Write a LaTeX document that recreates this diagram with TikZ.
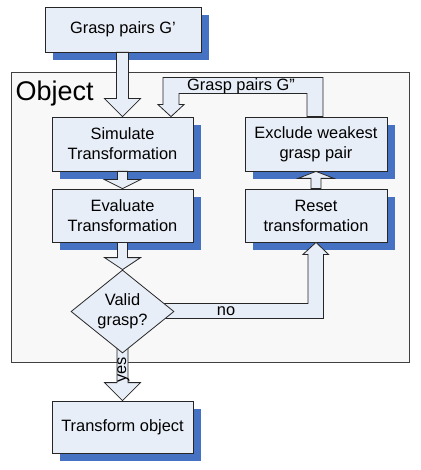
\documentclass[tikz,border=0pt]{standalone}
\usepackage{fontspec}
\setmainfont{Liberation Sans}
\usepackage{tikz}
\usetikzlibrary{calc}
\usetikzlibrary{shapes.geometric}
\usetikzlibrary{shadows}

\definecolor{boxfill}{RGB}{232,238,247}
\definecolor{shadowblue}{RGB}{70,114,196}
\definecolor{framefill}{RGB}{248,248,248}

\pgfdeclarelayer{front}
\pgfsetlayers{main,front}

\tikzset{
  stepbox/.style={draw=black!85, line width=0.8pt, fill=boxfill, align=center,
    inner sep=0pt, minimum width=141pt, minimum height=53pt,
    font=\fontsize{16.4}{20}\selectfont,
    general shadow={fill=shadowblue, shadow xshift=8pt, shadow yshift=-8pt}},
  decision/.style={diamond, draw=black!85, line width=0.8pt, fill=boxfill,
    align=center, inner sep=0pt, aspect=1.24, minimum width=103pt,
    minimum height=83pt, font=\fontsize{16.4}{20}\selectfont},
  blockarrow/.style={draw=black!85, line width=0.8pt, fill=boxfill},
  arrowlabel/.style={font=\fontsize{16.4}{20}\selectfont},
  objframe/.style={draw=black!75, line width=0.8pt, fill=framefill}
}

% vertical block arrow: from, to (tip), shaft half width, head half width, head length
\newcommand{\vblockarrow}[5]{%
  \draw[blockarrow] ($(#2 |- #1)-(#3,0)$) -- ($(#2)-(#3,#5)$) -- ($(#2)-(#4,#5)$)
    -- (#2) -- ($(#2)-(-#4,#5)$) -- ($(#2)-(-#3,#5)$) -- ($(#2 |- #1)-(-#3,0)$) -- cycle;}

\begin{document}
\begin{tikzpicture}[x=1pt,y=-1pt]
  \useasboundingbox (0,0) rectangle (420,470);
  % object frame
  \draw[objframe] (11,72) rectangle (409,362);
  \node[anchor=base west, font=\fontsize{27}{32}\selectfont] (objlabel) at (12,101) {Object};

  % boxes
  \node[stepbox, minimum width=156pt, minimum height=45pt] (gp) at (123,29.5) {Grasp pairs G’};
  \node[stepbox, minimum height=54pt] (sim) at (122.5,144) {Simulate\\Transformation};
  \node[stepbox] (eval) at (122.5,215.5) {Evaluate\\Transformation};
  \node[stepbox, minimum width=142pt, minimum height=54pt] (excl) at (316,144) {Exclude weakest\\grasp pair};
  \node[stepbox, minimum width=142pt] (reset) at (316,215.5) {Reset\\transformation};
  \node[stepbox, minimum height=52pt] (tobj) at (122.5,427) {Transform object};
  \begin{pgfonlayer}{front}
    \node[decision] (valid) at (122.5,311.5) {Valid\\grasp?};
  \end{pgfonlayer}

  % straight arrows
  \vblockarrow{gp.south}{sim.north}{6}{18}{18}
  \vblockarrow{sim.south}{eval.north}{5}{18}{9}
  \vblockarrow{eval.south}{valid.north}{5}{18}{12}
  \vblockarrow{valid.center}{tobj.north}{5.5}{18}{18}
  \vblockarrow{reset.north}{excl.south}{5}{18}{-7}

  % loop back
  \draw[blockarrow] ($(excl.north)+(7,0)$) -- ++(0,-39) -- ++(-160,0) -- ++(0,27)
    -- ++(-5,0) -- ($(sim.north)+(48.5,0)$) -- ++(13,-12) -- ++(-5,0) -- ++(0,-11)
    -- ++(128,0) -- ++(0,23) -- cycle;
  \node[arrowlabel, anchor=base] (gpp) at (241,91) {Grasp pairs G”};

  % no branch
  \draw[blockarrow] ($(valid.center)+(0,-8)$) -| ($(reset.south)+(-8,12)$) -- ++(-5,0)
    -- (reset.south) -- ++(12.5,12) -- ++(-5,0) |- ($(valid.center)+(0,7)$) -- cycle;
  \node[arrowlabel] (no) at (226,311.5) {no};

  % yes branch
  \node[arrowlabel, rotate=90] (yes) at (123.5,370) {yes};
\end{tikzpicture}
\end{document}
